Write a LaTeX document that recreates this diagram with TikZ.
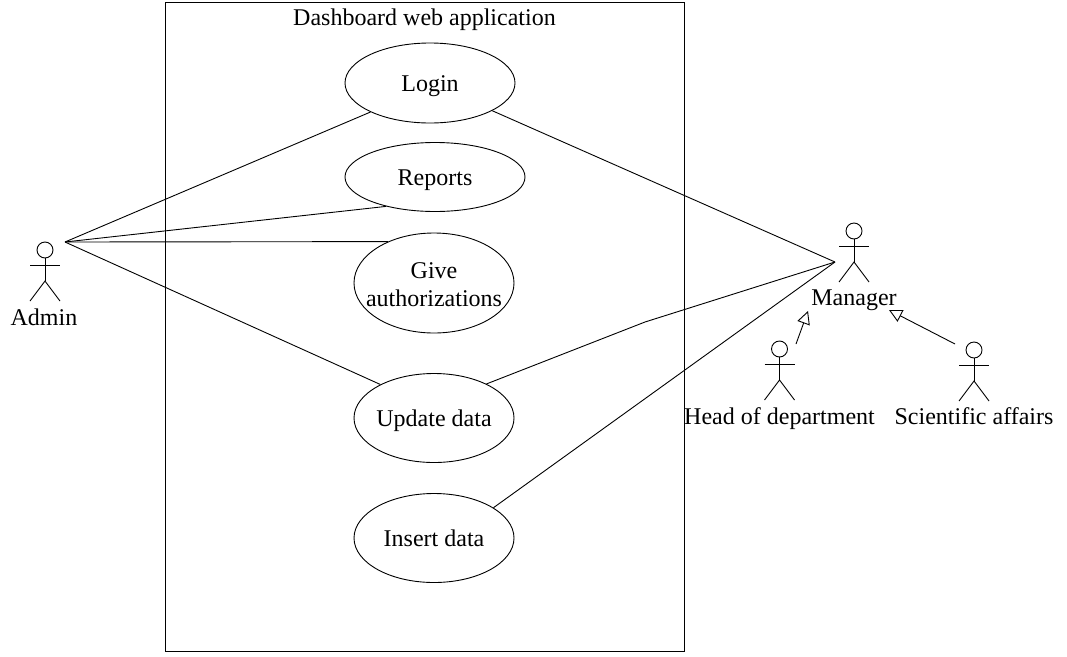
\documentclass[tikz,border=0pt]{standalone}
\usepackage{fontspec}
\setmainfont{Liberation Serif}
\usetikzlibrary{arrows.meta, positioning, shapes.geometric}

\begin{document}
\begin{tikzpicture}[
      x=1pt, y=-1pt,
      line width=0.9pt,
      every node/.style={font=\fontsize{24}{28}\selectfont, text height=20pt, text depth=4pt},
      usecase/.style={draw, ellipse, align=center, inner sep=0pt, inner xsep=-15pt},
      actor/.pic={
        \draw (0,0) circle (8pt);
        \draw (0,8) -- (0,31);
        \draw (-15,15.5) -- (15,15.5);
        \draw (-15,51) -- (0,31) -- (15,51);
      },
      generalize/.style={-{Triangle[open, length=13pt, width=13pt]}}
    ]
    \useasboundingbox (0,0) rectangle (1067,656);
    \node[draw, minimum width=519.5pt, minimum height=649pt, inner sep=0pt] (app) at (424.75,326.5) {};
    \node (title) at (424.5,17) {Dashboard web application};

    \node[usecase, minimum width=170pt, minimum height=80pt] (login) at (430,83) {Login};
    \node[usecase, minimum width=180pt, minimum height=69pt] (reports) at (435,177) {Reports};
    \node[usecase, minimum width=160pt, minimum height=100pt, text height=, text depth=] (give) at (434,283) {\rule{0pt}{20pt}Give\\authorizations};
    \node[usecase, minimum width=160pt, minimum height=89pt] (update) at (434,418) {Update data};
    \node[usecase, minimum width=160pt, minimum height=89pt] (insert) at (434,538) {Insert data};

    % actors
    \pic at (45,250) {actor};
    \node (admin) at (44,317) {Admin};
    \pic at (854,231) {actor};
    \node (manager) at (854,297) {Manager};
    \pic at (779.5,349) {actor};
    \node (head) at (779.5,416) {Head of department};
    \pic at (974,350) {actor};
    \node (science) at (974,416) {Scientific affairs};

    \coordinate (adminport) at (65,242);
    \coordinate (managerport) at (835,262);
    \coordinate (bend) at (645,322);
    \coordinate (headfrom) at (796,344);
    \coordinate (headtip) at (808,311);
    \coordinate (sciencefrom) at (955,344);
    \coordinate (sciencetip) at (889,310);

    \draw (adminport) -- (login.206);
    \draw (adminport) -- (reports.211);
    \draw (adminport) -- (give.138);
    \draw (adminport) -- (update.148);

    \draw (login.336) -- (managerport);
    \draw (update.33) -- (bend) -- (managerport);
    \draw (insert.27) -- (managerport);

    \draw[generalize] (headfrom) -- (headtip);
    \draw[generalize] (sciencefrom) -- (sciencetip);
  \end{tikzpicture}
\end{document}
